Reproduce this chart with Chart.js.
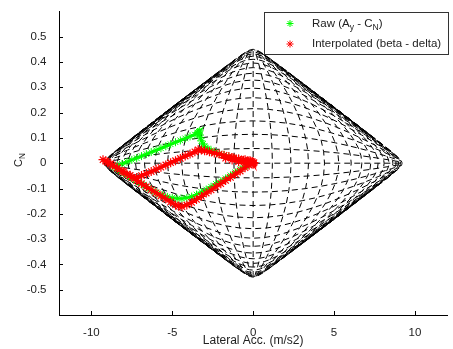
<!DOCTYPE html>
<html>
<head>
<meta charset="utf-8">
<title>Ay - CN map</title>
<script src="https://cdn.jsdelivr.net/npm/chart.js@4.4.1/dist/chart.umd.min.js"></script>
<style>
  html, body { margin: 0; padding: 0; background: #fff; }
  canvas { display: block; }
</style>
</head>
<body>
<canvas id="chart" width="453" height="349"></canvas>
<script>
// ===== DATA =====

const xTicks = [-10, -5, 0, 5, 10];
const yTicks = [-0.5, -0.4, -0.3, -0.2, -0.1, 0, 0.1, 0.2, 0.3, 0.4, 0.5];

// beta / delta grid levels (deg) used for the dashed mesh
const betaGrid = [-16, -15, -14, -13, -12, -11, -10, -9, -8, -7, -6, -5, -4, -3, -2, -1, 0,
                  1, 2, 3, 4, 5, 6, 7, 8, 9, 10, 11, 12, 13, 14, 15, 16];
const deltaGrid = [-16, -15, -14, -13, -12, -11, -10, -9, -8, -7, -6, -5, -4, -3, -2, -1, 0,
                   1, 2, 3, 4, 5, 6, 7, 8, 9, 10, 11, 12, 13, 14, 15, 16];

// Raw measurements [Ay (m/s2), CN]
const rawPoints = [
    [-0.3, -0.002], [-0.6, 0.008], [-0.9, 0.014], [-1.2, 0.020], [-1.5, 0.026], [-1.8, 0.032],
    [-2.1, 0.038], [-2.4, 0.045], [-2.6, 0.051], [-2.8, 0.058], [-3.0, 0.067], [-3.1, 0.076],
    [-3.2, 0.088], [-3.25, 0.100], [-3.3, 0.112], [-3.35, 0.124], [-3.4, 0.118], [-3.3, 0.128],
    [-3.45, 0.121], [-3.6, 0.113], [-3.9, 0.106], [-4.2, 0.098], [-4.5, 0.090], [-4.8, 0.083],
    [-5.1, 0.075], [-5.4, 0.067], [-5.7, 0.059], [-6.0, 0.051], [-6.3, 0.044], [-6.6, 0.036],
    [-6.9, 0.028], [-7.2, 0.020], [-7.5, 0.013], [-7.8, 0.005], [-8.1, -0.003], [-8.4, -0.010],
    [-8.6, -0.016], [-8.3, -0.028], [-8.0, -0.040], [-7.7, -0.052], [-7.4, -0.063], [-7.1, -0.074],
    [-6.8, -0.085], [-6.5, -0.098], [-6.2, -0.109], [-5.9, -0.119], [-5.6, -0.127], [-5.3, -0.133],
    [-5.0, -0.137], [-4.7, -0.140], [-4.4, -0.140], [-4.1, -0.137], [-3.8, -0.132], [-3.5, -0.124],
    [-3.2, -0.114], [-2.9, -0.104], [-2.6, -0.093], [-2.3, -0.082], [-2.0, -0.071], [-1.7, -0.060],
    [-1.4, -0.048], [-1.1, -0.036], [-0.8, -0.024], [-0.5, -0.012], [-0.3, -0.005]
];

// Interpolated from the beta - delta mesh [Ay (m/s2), CN]
const interpPoints = [
    [0.05, 0.002], [-0.05, 0.006], [0.0, -0.004], [-0.15, 0.008], [-0.5, 0.000], [-0.9, 0.006],
    [-1.3, 0.013], [-1.7, 0.020], [-1.3, 0.022], [-0.9, 0.017], [-0.5, 0.014], [-0.2, 0.010],
    [-0.3, 0.008], [-0.6, 0.012], [-0.9, 0.016], [-1.2, 0.021], [-1.5, 0.026], [-1.8, 0.031],
    [-2.1, 0.036], [-2.4, 0.040], [-2.7, 0.045], [-3.0, 0.049], [-3.2, 0.052], [-3.4, 0.053],
    [-3.6, 0.045], [-3.9, 0.036], [-4.2, 0.028], [-4.5, 0.019], [-4.8, 0.010], [-5.1, 0.002],
    [-5.4, -0.007], [-5.7, -0.016], [-6.0, -0.024], [-6.3, -0.033], [-6.6, -0.041], [-6.9, -0.049],
    [-7.2, -0.057], [-7.6, -0.048], [-8.0, -0.033], [-8.4, -0.018], [-8.8, -0.003], [-9.1, 0.008],
    [-9.28, 0.014], [-9.0, 0.004], [-8.7, -0.008], [-8.4, -0.020], [-8.1, -0.032], [-7.8, -0.044],
    [-7.5, -0.056], [-7.2, -0.069], [-6.9, -0.081], [-6.6, -0.093], [-6.3, -0.105], [-6.0, -0.117],
    [-5.7, -0.129], [-5.4, -0.141], [-5.1, -0.153], [-4.8, -0.165], [-4.6, -0.170], [-4.4, -0.172],
    [-4.1, -0.165], [-3.8, -0.155], [-3.5, -0.143], [-3.2, -0.131], [-2.9, -0.118], [-2.6, -0.106],
    [-2.3, -0.093], [-2.0, -0.081], [-1.7, -0.068], [-1.4, -0.056], [-1.1, -0.043], [-0.8, -0.031],
    [-0.5, -0.018], [-0.25, -0.008], [0.0, 0.0]
];

// ===== MESH MODEL (tanh tyre saturation) =====

const SLIP_SCALE = 8;        // deg
const AY_GAIN = 4.772;       // m/s2
const CN_GAIN = 0.2334;

function meshPoint(beta, delta) {
    const u = Math.tanh((delta + beta) / SLIP_SCALE);
    const v = Math.tanh((delta - beta) / SLIP_SCALE);
    return { x: AY_GAIN * (u + v), y: CN_GAIN * (u - v) };
}

const meshStyle = {
    showLine: true,
    borderColor: '#000',
    borderWidth: 1,
    borderDash: [6, 4],
    pointRadius: 0,
    pointHoverRadius: 0,
    fill: false,
    order: 3
};

const meshDatasets = [];
betaGrid.forEach(b => {
    meshDatasets.push({ ...meshStyle, label: 'mesh', data: deltaGrid.map(d => meshPoint(b, d)) });
});
deltaGrid.forEach(d => {
    meshDatasets.push({ ...meshStyle, label: 'mesh', data: betaGrid.map(b => meshPoint(b, d)) });
});

const toXY = pts => pts.map(p => ({ x: p[0], y: p[1] }));

// ===== PLUGINS =====

const FONT = '"Liberation Sans", Arial, Helvetica, sans-serif';

const inwardTicks = {
    id: 'inwardTicks',
    afterDatasetsDraw(chart) {
        const { ctx, chartArea: a, scales: { x, y } } = chart;
        ctx.save();
        ctx.strokeStyle = '#000';
        ctx.lineWidth = 1;
        ctx.beginPath();
        xTicks.forEach(v => {
            const px = Math.round(x.getPixelForValue(v)) + 0.5;
            ctx.moveTo(px, a.bottom);
            ctx.lineTo(px, a.bottom - 4);
        });
        yTicks.forEach(v => {
            const py = Math.round(y.getPixelForValue(v)) + 0.5;
            ctx.moveTo(a.left, py);
            ctx.lineTo(a.left + 4, py);
        });
        ctx.stroke();
        ctx.restore();
    }
};

// draws text with subscript parts, returns end x
function drawRich(ctx, parts, x, y, size) {
    parts.forEach(([txt, sub]) => {
        ctx.font = (sub ? size * 0.75 : size) + 'px ' + FONT;
        ctx.fillText(txt, x, sub ? y + size * 0.35 : y);
        x += ctx.measureText(txt).width;
    });
    return x;
}

const matlabLegend = {
    id: 'matlabLegend',
    afterDraw(chart) {
        const ctx = chart.ctx;
        ctx.save();
        // box
        ctx.fillStyle = '#fff';
        ctx.fillRect(264, 12, 184, 42);
        ctx.strokeStyle = '#333';
        ctx.lineWidth = 1;
        ctx.strokeRect(264.5, 12.5, 184, 42);

        const items = [
            { color: '#00ff00', y: 23.5, parts: [['Raw (A'], ['y', true], [' - C'], ['N', true], [')']] },
            { color: '#ff0000', y: 44, parts: [['Interpolated (beta - delta)']] }
        ];
        items.forEach(it => {
            ctx.strokeStyle = it.color;
            ctx.lineWidth = 1;
            Chart.helpers.drawPoint(ctx, { pointStyle: 'star', radius: 3.5, rotation: 0, borderWidth: 1 }, 290, it.y);
            ctx.fillStyle = '#222';
            ctx.textBaseline = 'middle';
            ctx.textAlign = 'left';
            drawRich(ctx, it.parts, 312, it.y, 11.5);
        });

        // y axis title  C_N (rotated)
        ctx.translate(19, 160);
        ctx.rotate(-Math.PI / 2);
        ctx.fillStyle = '#222';
        ctx.textBaseline = 'middle';
        ctx.font = '11px ' + FONT;
        const wC = ctx.measureText('C').width;
        ctx.font = '8.25px ' + FONT;
        const wN = ctx.measureText('N').width;
        drawRich(ctx, [['C'], ['N', true]], -(wC + wN) / 2, 0, 11);
        ctx.restore();
    }
};

// ===== CHART =====

const ctx = document.getElementById('chart').getContext('2d');

new Chart(ctx, {
    type: 'scatter',
    data: {
        datasets: [
            {
                label: 'Raw (Ay - CN)',
                data: toXY(rawPoints),
                showLine: true,
                borderColor: '#00ff00',
                borderWidth: 2.5,
                pointStyle: 'star',
                pointRadius: 4,
                pointBorderWidth: 1,
                pointBorderColor: '#00ff00',
                pointBackgroundColor: '#00ff00',
                order: 2
            },
            {
                label: 'Interpolated (beta - delta)',
                data: toXY(interpPoints),
                showLine: true,
                borderColor: '#ff0000',
                borderWidth: 3,
                pointStyle: 'star',
                pointRadius: 4.5,
                pointBorderWidth: 1.2,
                pointBorderColor: '#ff0000',
                pointBackgroundColor: '#ff0000',
                order: 1
            },
            ...meshDatasets
        ]
    },
    options: {
        responsive: false,
        animation: false,
        events: [],
        layout: { padding: { top: 5, right: 0, bottom: 0, left: 0 } },
        plugins: {
            legend: { display: false },
            tooltip: { enabled: false }
        },
        scales: {
            x: {
                type: 'linear',
                min: -12,
                max: 12,
                grid: { display: false },
                border: { display: true, color: '#000', width: 1 },
                afterBuildTicks: s => { s.ticks = xTicks.map(v => ({ value: v })); },
                afterFit: s => { s.height = 34; },
                ticks: {
                    autoSkip: false,
                    maxRotation: 0,
                    padding: 3,
                    color: '#222',
                    font: { family: FONT, size: 11.5 },
                    callback: v => String(v)
                },
                title: {
                    display: true,
                    text: 'Lateral Acc. (m/s2)',
                    color: '#222',
                    font: { family: FONT, size: 12 },
                    padding: { top: 0, bottom: 1 }
                }
            },
            y: {
                type: 'linear',
                min: -0.6,
                max: 0.6,
                grid: { display: false },
                border: { display: true, color: '#000', width: 1 },
                afterBuildTicks: s => { s.ticks = yTicks.map(v => ({ value: v })); },
                afterFit: s => { s.width = 59; },
                ticks: {
                    autoSkip: false,
                    padding: 4.5,
                    color: '#222',
                    font: { family: FONT, size: 11.5 },
                    callback: v => String(v)
                }
            }
        }
    },
    plugins: [inwardTicks, matlabLegend]
});
</script>
</body>
</html>
